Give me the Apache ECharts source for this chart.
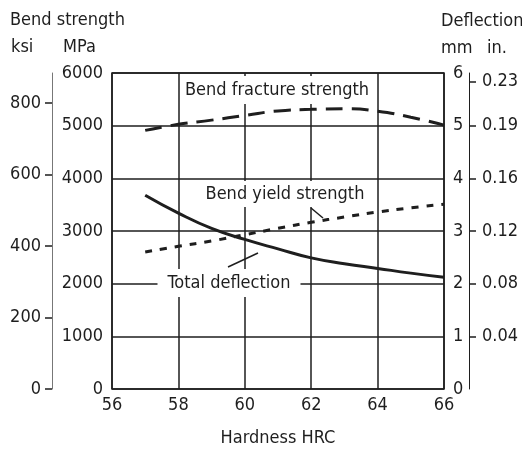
<!DOCTYPE html>
<html>
<head>
<meta charset="utf-8">
<script src="https://cdn.jsdelivr.net/npm/echarts@6/dist/echarts.min.js"></script>
<style>
  html, body { margin: 0; padding: 0; background: #fff; }
  #chart-area { width: 522px; height: 452px; }
</style>
</head>
<body>
<div id="chart-area"></div>
<script>
// 硬度 HRC
var hrc = [57, 58, 59, 60, 61, 62, 63, 64, 65, 66]
// 抗弯断裂强度 MPa
var fractureStrength = [4910, 5025, 5105, 5195, 5280, 5310, 5320, 5275, 5160, 5010]
// 抗弯屈服强度 MPa
var yieldStrength = [2600, 2710, 2810, 2930, 3050, 3165, 3265, 3360, 3440, 3510]
// 总挠度 mm
var totalDeflection = [3.68, 3.34, 3.05, 2.84, 2.66, 2.49, 2.38, 2.29, 2.2, 2.12]
// 副坐标轴刻度
var ksiTicks = [0, 200, 400, 600, 800]
var inchTicksMm = [1, 2, 3, 4, 5, 5.84]
var inchLabels = ['0.04', '0.08', '0.12', '0.16', '0.19', '0.23']

var FONT = "'Liberation Sans Narrow', 'DejaVu Sans Condensed', 'Roboto', sans-serif"
var INK = '#1e1e1e'

function pairs(ys) {
  return hrc.map(function (x, i) { return [x, ys[i]] })
}

// 不要千位分隔符
function plain(v) {
  return String(v)
}

var labelStyle = { fontFamily: FONT, fontSize: 18, color: INK }

function note(text, x, y, pad) {
  return {
    type: 'text', z: 100, x: x, y: y,
    style: {
      text: text, fontFamily: FONT, fontSize: 18, fill: INK,
      align: 'center', verticalAlign: 'middle',
      backgroundColor: '#fff', padding: pad
    }
  }
}

function header(text, x, y) {
  return {
    type: 'text', z: 100, x: x, y: y,
    style: { text: text, fontFamily: FONT, fontSize: 18, fill: INK, verticalAlign: 'middle' }
  }
}

function leader(x1, y1, x2, y2) {
  return {
    type: 'line', z: 100,
    shape: { x1: x1, y1: y1, x2: x2, y2: y2 },
    style: { stroke: INK, lineWidth: 1.5 }
  }
}

var options = {
  animation: false,
  grid: {
    left: 112, right: 78, top: 73, bottom: 59,
    show: true, borderColor: INK, borderWidth: 1.5
  },
  xAxis: {
    type: 'value', min: 56, max: 66, interval: 2,
    axisLine: { show: false },
    axisTick: { show: false },
    splitLine: { show: true, lineStyle: { color: INK, width: 1.5 } },
    axisLabel: Object.assign({ margin: 7, formatter: plain }, labelStyle),
    name: 'Hardness HRC', nameLocation: 'middle', nameGap: 40,
    nameTextStyle: labelStyle
  },
  yAxis: [
    {
      // MPa
      type: 'value', position: 'left', min: 0, max: 6000, interval: 1000,
      axisLine: { show: false },
      axisTick: { show: false },
      splitLine: { show: true, lineStyle: { color: INK, width: 1.5 } },
      axisLabel: Object.assign({ margin: 9, formatter: plain }, labelStyle)
    },
    {
      // ksi
      type: 'value', position: 'left', offset: 60, min: 0, max: 884,
      axisLine: { show: true, lineStyle: { color: '#777', width: 1 } },
      axisTick: { show: true, customValues: ksiTicks, length: 7, lineStyle: { color: INK, width: 1.5 } },
      splitLine: { show: false },
      axisLabel: Object.assign({ margin: 11, customValues: ksiTicks, formatter: plain }, labelStyle)
    },
    {
      // mm
      type: 'value', position: 'right', min: 0, max: 6, interval: 1,
      axisLine: { show: false },
      axisTick: { show: false },
      splitLine: { show: false },
      axisLabel: Object.assign({ margin: 9, formatter: plain }, labelStyle)
    },
    {
      // in.
      type: 'value', position: 'right', offset: 25, min: 0, max: 6,
      axisLine: { show: true, lineStyle: { color: INK, width: 1 } },
      axisTick: { show: true, customValues: inchTicksMm, length: 7, lineStyle: { color: INK, width: 1.5 } },
      splitLine: { show: false },
      axisLabel: Object.assign({
        margin: 13,
        customValues: inchTicksMm,
        formatter: function (v) {
          var i = inchTicksMm.indexOf(v)
          return i >= 0 ? inchLabels[i] : ''
        }
      }, labelStyle)
    }
  ],
  series: [
    {
      name: 'Bend fracture strength', type: 'line', yAxisIndex: 0,
      smooth: true, showSymbol: false, z: 5,
      data: pairs(fractureStrength),
      lineStyle: { color: INK, width: 3, type: [17, 9] }
    },
    {
      name: 'Bend yield strength', type: 'line', yAxisIndex: 0,
      smooth: true, showSymbol: false, z: 5,
      data: pairs(yieldStrength),
      lineStyle: { color: INK, width: 3, type: [7, 8] }
    },
    {
      name: 'Total deflection', type: 'line', yAxisIndex: 2,
      smooth: true, showSymbol: false, z: 5,
      data: pairs(totalDeflection),
      lineStyle: { color: INK, width: 3, type: 'solid' }
    }
  ],
  graphic: [
    header('Bend strength', 10, 20),
    header('ksi', 11, 47),
    header('MPa', 63, 47),
    header('Deflection', 441, 21),
    header('mm', 441, 48),
    header('in.', 487, 48),
    note('Bend fracture strength', 277, 90, [5, 4]),
    note('Bend yield strength', 285, 194, [4, 4]),
    note('Total deflection', 229, 283, [5, 10]),
    leader(311, 208, 323, 218),
    leader(228, 267, 258, 253)
  ]
}

// 基于准备好的dom，初始化echarts实例
var chartArea = echarts.init(document.getElementById('chart-area'))
chartArea.setOption(options)
</script>
</body>
</html>
